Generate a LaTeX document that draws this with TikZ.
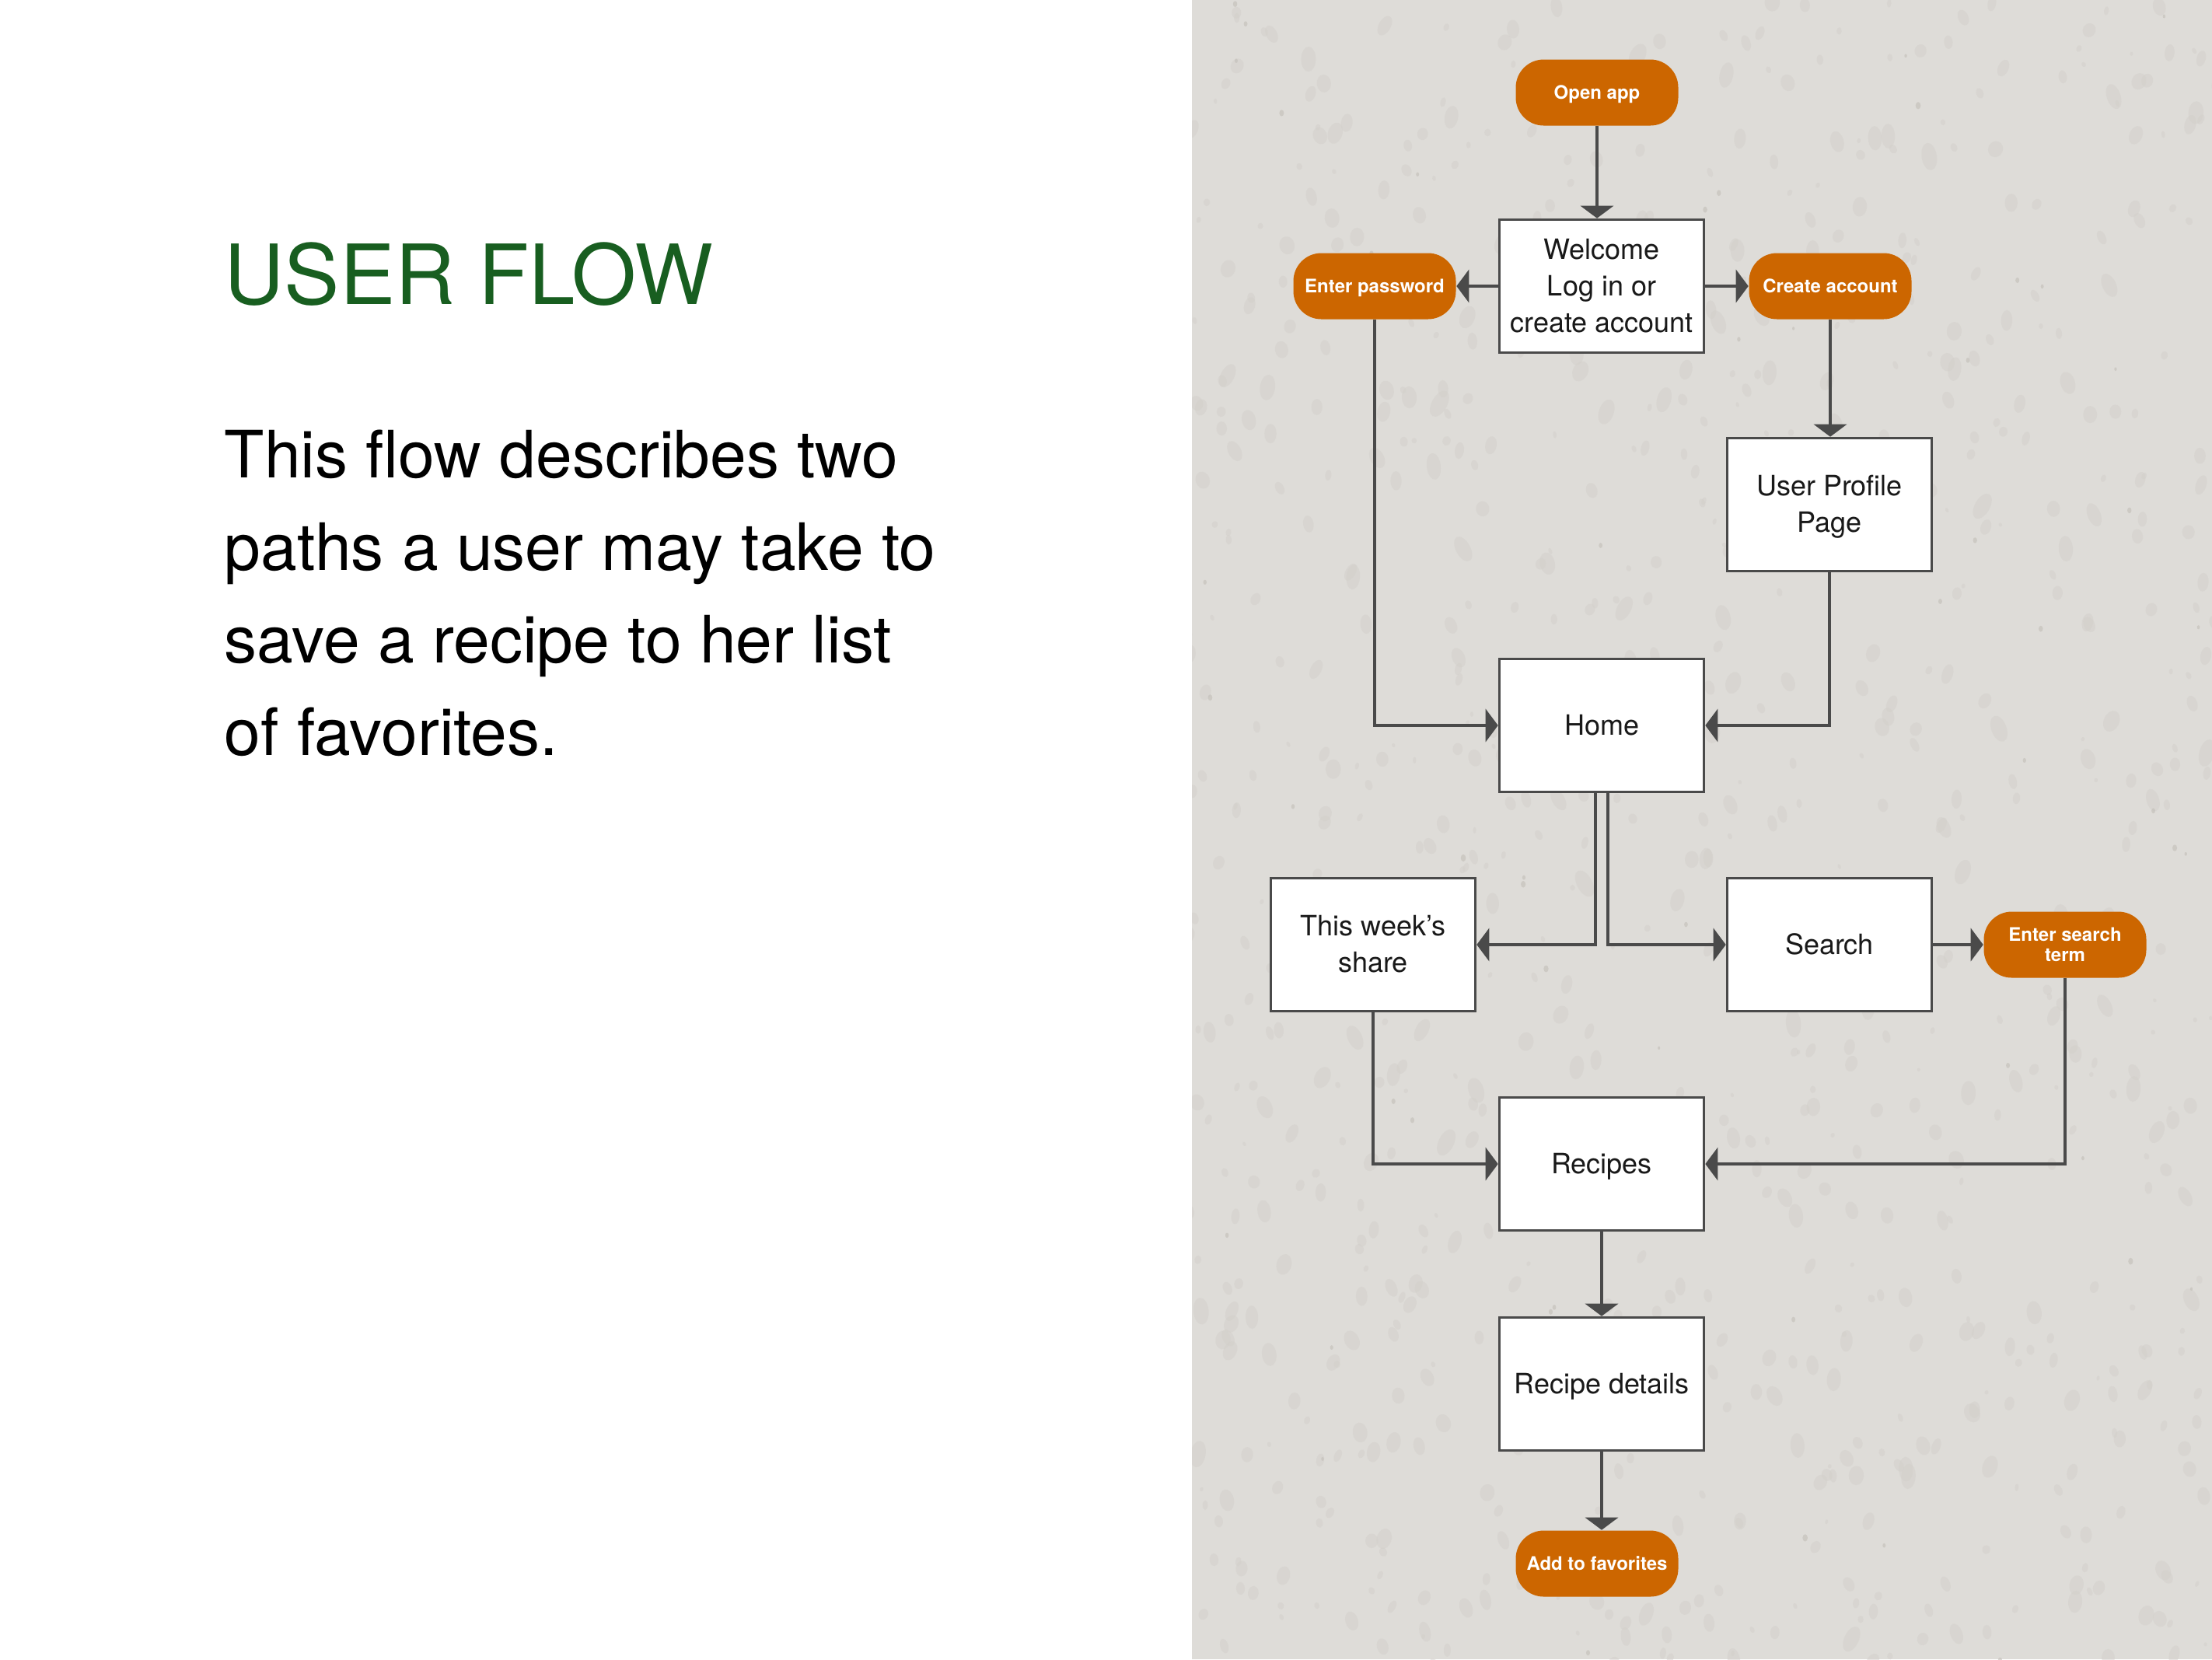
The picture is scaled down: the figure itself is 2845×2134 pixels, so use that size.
\documentclass[tikz,border=0pt]{standalone}
\usepackage{fontspec}
\setmainfont{TeX Gyre Heros}
\usetikzlibrary{arrows.meta,calc}
\definecolor{panel}{HTML}{DEDCD8}
\definecolor{speck}{HTML}{D3D0CB}
\definecolor{speckdark}{HTML}{C2BEB8}
\definecolor{flowline}{HTML}{4A4A4A}
\definecolor{pillorange}{HTML}{CC6600}
\definecolor{titlegreen}{HTML}{185E20}
\newcommand\bstrut{\rule[-2.84pt]{0pt}{11.8pt}}
\tikzset{
  screen/.style={draw=flowline, line width=0.9pt, fill=white, minimum width=65.75pt,
    minimum height=42.75pt, inner sep=0pt, align=center, text=black!90,
    font=\fontsize{9pt}{11.8pt}\selectfont},
  pill/.style={fill=pillorange, rounded corners=9pt, minimum width=52.25pt,
    minimum height=21.25pt, inner sep=0pt, align=center, text=white,
    font=\fontsize{6pt}{6.4pt}\selectfont\bfseries},
  oneline/.style={text height=4.4pt, text depth=0pt},
  flow/.style={draw=flowline, line width=1pt,
    -{Triangle[length=4pt,width=10.5pt]}},
  bodytext/.style={anchor=base west, inner sep=0pt, text=black,
    font=\fontsize{21pt}{29.6pt}\selectfont}
}
\begin{document}
\begin{tikzpicture}[x=0.25pt,y=-0.25pt]
\useasboundingbox (0,0) rectangle (2845,2134);
\fill[white] (0,0) rectangle (2845,2134);
\fill[panel] (1533,0) rectangle (2845,2134);
\begin{scope}
  \clip (1533,0) rectangle (2845,2134);
  \pgfmathsetseed{12}
  \foreach \i in {1,...,900}{
    \pgfmathsetmacro{\px}{2189+680*rand}
    \pgfmathsetmacro{\py}{1067+1090*rand}
    \pgfmathsetmacro{\ra}{6+4*rand}
    \pgfmathsetmacro{\rb}{\ra*(1.5+0.4*rand)}
    \pgfmathsetmacro{\rot}{30*rand}
    \fill[speck, opacity=0.5, rotate around={\rot:(\px,\py)}] (\px,\py) ellipse [x radius=\ra, y radius=\rb];
  }
  \foreach \i in {1,...,60}{
    \pgfmathsetmacro{\px}{2189+680*rand}
    \pgfmathsetmacro{\py}{1067+1090*rand}
    \pgfmathsetmacro{\ra}{2.5+1*rand}
    \fill[speckdark, opacity=0.6] (\px,\py) ellipse [x radius=\ra, y radius=1.4*\ra];
  }
\end{scope}

% left text
\node[anchor=base west, inner sep=0pt, text=titlegreen,
  font=\fontsize{26.7pt}{30pt}\selectfont] (title) at (288,391) {USER FLOW};
\node[bodytext] (b1) at (288,614) {This flow describes two};
\node[bodytext] (b2) at (288,733) {paths a user may take to};
\node[bodytext] (b3) at (288,852) {save a recipe to her list};
\node[bodytext] (b4) at (288,971) {of favorites.};

% nodes
\node[pill, oneline] (open) at (2054,119) {Open app};
\node[screen] (welcome) at (2060,368) {\bstrut Welcome\\\bstrut Log in or\\\bstrut create account};
\node[pill, oneline] (pw) at (1768,368) {Enter password};
\node[pill, oneline] (ca) at (2354,368) {Create account};
\node[screen] (profile) at (2353,649) {\bstrut User Profile\\\bstrut Page};
\node[screen] (home) at (2060,933) {\bstrut Home};
\node[screen] (week) at (1766,1215) {\bstrut This week’s\\\bstrut share};
\node[screen] (search) at (2353,1215) {\bstrut Search};
\node[pill] (est) at (2656,1215) {Enter search\\term};
\node[screen] (recipes) at (2060,1497) {\bstrut Recipes};
\node[screen] (details) at (2060,1780) {\bstrut Recipe details};
\node[pill, oneline] (fav) at (2054,2011) {Add to favorites};

\coordinate (hl) at ($(home.south)+(-8,0)$);
\coordinate (hr) at ($(home.south)+(8,0)$);

% connectors
\draw[flow] (open.south) -- (open.south |- welcome.north);
\draw[flow] (welcome.west) -- (pw.east);
\draw[flow] (welcome.east) -- (ca.west);
\draw[flow] (ca.south) -- (ca.south |- profile.north);
\draw[flow] (pw.south) |- (home.west);
\draw[flow] (profile.south) |- (home.east);
\draw[flow] (hl) |- (week.east);
\draw[flow] (hr) |- (search.west);
\draw[flow] (search.east) -- (est.west);
\draw[flow] (week.south) |- (recipes.west);
\draw[flow] (est.south) |- (recipes.east);
\draw[flow] (recipes.south) -- (details.north);
\draw[flow] (details.south) -- (details.south |- fav.north);
\end{tikzpicture}
\end{document}
